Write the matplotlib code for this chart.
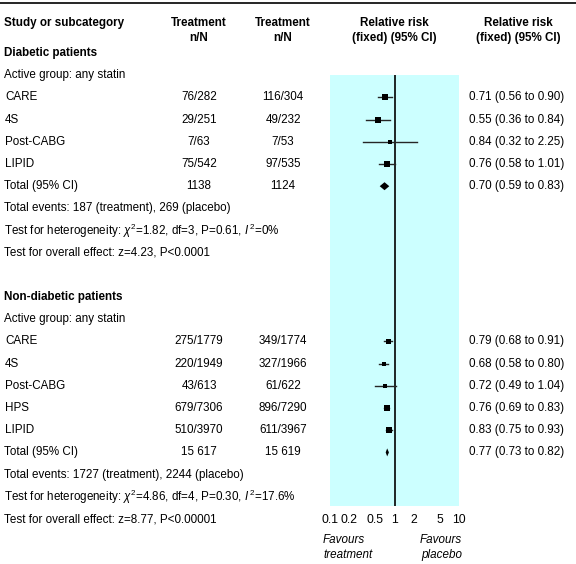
import numpy as np
import matplotlib
matplotlib.use('Agg')
import matplotlib.pyplot as plt

# ---- data ----
diab_studies = ['CARE', '4S', 'Post-CABG', 'LIPID']
diab_treat   = ['76/282', '29/251', '7/63', '75/542']
diab_ctrl    = ['116/304', '49/232', '7/53', '97/535']
diab_rr      = [0.71, 0.55, 0.84, 0.76]
diab_lo      = [0.56, 0.36, 0.32, 0.58]
diab_hi      = [0.90, 0.84, 2.25, 1.01]
diab_total   = ['1138', '1124']
diab_tot_rr  = [0.70, 0.59, 0.83]

nond_studies = ['CARE', '4S', 'Post-CABG', 'HPS', 'LIPID']
nond_treat   = ['275/1779', '220/1949', '43/613', '679/7306', '510/3970']
nond_ctrl    = ['349/1774', '327/1966', '61/622', '896/7290', '611/3967']
nond_rr      = [0.79, 0.68, 0.72, 0.76, 0.83]
nond_lo      = [0.68, 0.58, 0.49, 0.69, 0.75]
nond_hi      = [0.91, 0.80, 1.04, 0.83, 0.93]
nond_total   = ['15 617', '15 619']
nond_tot_rr  = [0.77, 0.73, 0.82]

diab_notes = ['Total events: 187 (treatment), 269 (placebo)',
              r'Test for heterogeneity: $\chi^2$=1.82, df=3, P=0.61, $I^{\,2}$=0%',
              'Test for overall effect: z=4.23, P<0.0001']
nond_notes = ['Total events: 1727 (treatment), 2244 (placebo)',
              r'Test for heterogeneity: $\chi^2$=4.86, df=4, P=0.30, $I^{\,2}$=17.6%',
              'Test for overall effect: z=8.77, P<0.00001']

ticks = [0.1, 0.2, 0.5, 1, 2, 5, 10]
tick_labels = ['0.1', '0.2', '0.5', '1', '2', '5', '10']

# ---- style ----
fam = 'Liberation Sans'
plt.rcParams['font.family'] = [fam, 'DejaVu Sans']
plt.rcParams['mathtext.fontset'] = 'custom'
plt.rcParams['mathtext.rm'] = fam
plt.rcParams['mathtext.it'] = fam + ':italic'
fs = 8.4

W, H = 576, 564
fig = plt.figure(figsize=(W / 100, H / 100), dpi=100)
ax = fig.add_axes([0, 0, 1, 1])
ax.set_xlim(0, W)
ax.set_ylim(H, 0)
ax.axis('off')

x_name, x_t, x_c, x_rr = 4, 199, 283, 469
row_h = 22.2

def txt(x, y, s, ha='left', bold=False, **kw):
    ax.text(x, y, s, ha=ha, va='center', fontsize=fs,
            fontweight='bold' if bold else 'normal', **kw)

ax.plot([0, W], [2.5, 2.5], color='black', lw=1.2)
txt(x_name, 23, 'Study or subcategory', bold=True)
for xc, l1, l2 in [(x_t, 'Treatment', 'n/N'), (x_c, 'Treatment', 'n/N'),
                   (394, 'Relative risk', '(fixed) (95% CI)'),
                   (518, 'Relative risk', '(fixed) (95% CI)')]:
    txt(xc, 23, l1, ha='center', bold=True)
    txt(xc, 38, l2, ha='center', bold=True)

# forest axes: x log scale 0.1..10, y in figure pixels
fx0, fx1, fy0, fy1 = 330, 459, 75, 506
fax = fig.add_axes([fx0 / W, 1 - fy1 / H, (fx1 - fx0) / W, (fy1 - fy0) / H])
fax.set_xscale('log')
fax.set_xlim(0.1, 10)
fax.set_ylim(fy1, fy0)
fax.set_facecolor('#ccffff')
for sp in fax.spines.values():
    sp.set_visible(False)
fax.set_yticks([])
fax.set_xticks(ticks)
fax.set_xticklabels(tick_labels, fontsize=fs + 0.4)
fax.minorticks_off()
fax.tick_params(axis='x', length=0, pad=6)
fax.axvline(1, color='black', lw=1.2)

def block(y0, title, studies, tr, ct, rr, lo, hi, total, tot, notes, sizes):
    txt(x_name, y0, title, bold=True)
    txt(x_name, y0 + row_h, 'Active group: any statin')
    for i, s in enumerate(studies):
        y = y0 + row_h * (i + 2)
        txt(x_name + 1, y, s)
        txt(x_t, y, tr[i], ha='center')
        txt(x_c, y, ct[i], ha='center')
        txt(x_rr, y, '%.2f (%.2f to %.2f)' % (rr[i], lo[i], hi[i]))
        fax.plot([lo[i], hi[i]], [y, y], color='#262626', lw=1.0)
        fax.plot(rr[i], y, 's', color='black', ms=sizes[i], mew=0)
    y = y0 + row_h * (len(studies) + 2)
    txt(x_name, y, 'Total (95% CI)')
    txt(x_t, y, total[0], ha='center')
    txt(x_c, y, total[1], ha='center')
    txt(x_rr, y, '%.2f (%.2f to %.2f)' % tuple(tot))
    dh = 4
    fax.fill([tot[1], tot[0], tot[2], tot[0]], [y, y - dh, y, y + dh],
             color='black', lw=0)
    for j, n in enumerate(notes):
        txt(x_name, y + row_h * (j + 1), n)

block(53, 'Diabetic patients', diab_studies, diab_treat, diab_ctrl, diab_rr,
      diab_lo, diab_hi, diab_total, diab_tot_rr, diab_notes, [5.0, 4.0, 2.8, 4.3])
block(297, 'Non-diabetic patients', nond_studies, nond_treat, nond_ctrl, nond_rr,
      nond_lo, nond_hi, nond_total, nond_tot_rr, nond_notes, [3.6, 3.2, 2.4, 4.0, 4.0])

txt(323, 540, 'Favours', style='italic')
txt(323, 555, 'treatment', style='italic')
txt(462, 540, 'Favours', ha='right', style='italic')
txt(462, 555, 'placebo', ha='right', style='italic')

fig.savefig('out.png', dpi=100)
